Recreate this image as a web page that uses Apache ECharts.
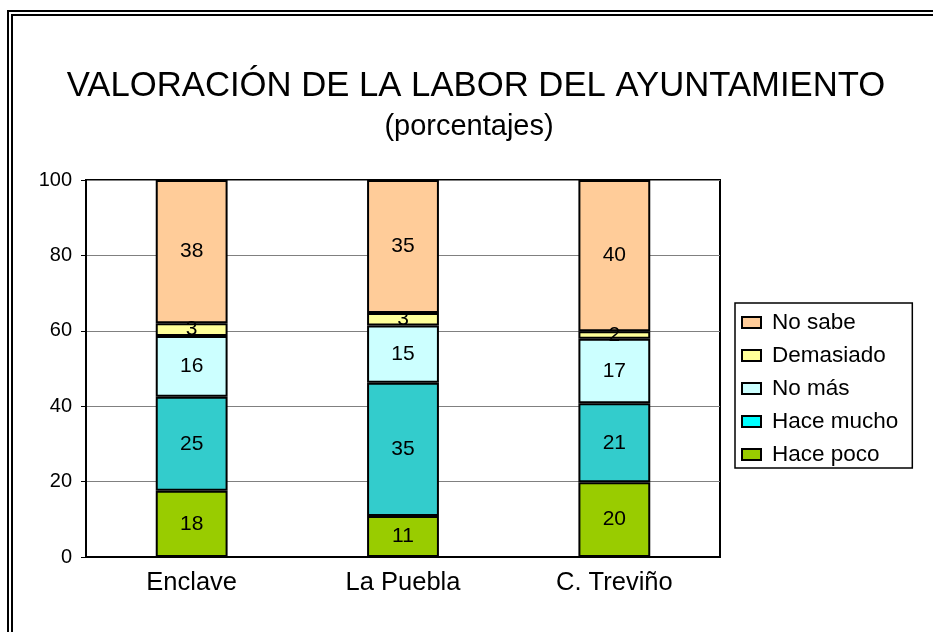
<!DOCTYPE html>
<html>
<head>
<meta charset="utf-8">
<script src="https://cdn.jsdelivr.net/npm/echarts@6/dist/echarts.min.js"></script>
<style>
	html, body { margin: 0; padding: 0; background: #fff; }
	#frame {
		position: absolute; left: 7px; top: 10px; width: 1000px; height: 700px;
		border-left: 6px double #000; border-top: 6px double #000;
	}
	#chart { position: absolute; left: 0; top: 0; width: 933px; height: 632px; }
</style>
</head>
<body>
<div id="frame"></div>
<div id="chart"></div>
<script>
var categories = ['Enclave', 'La Puebla', 'C. Treviño'];
var hacePoco = [17.6, 10.9, 19.8];
var haceMucho = [24.9, 35.3, 21.0];
var noMas = [16.1, 15.2, 17.1];
var demasiado = [3.4, 3.3, 2.0];
var noSabe = [38.0, 35.3, 40.1];
var yTicks = [0, 20, 40, 60, 80, 100];

var font = 'Liberation Sans, Arial, sans-serif';

function serie(name, data, color) {
	return {
		name: name,
		type: 'bar',
		stack: 'total',
		data: data,
		barWidth: '34%',
		itemStyle: { color: color, borderColor: '#000', borderWidth: 2 },
		label: {
			show: true,
			position: 'inside',
			color: '#000',
			fontFamily: font,
			fontSize: 21,
			formatter: function (p) { return Math.round(p.value); }
		}
	};
}

var myChart = echarts.init(document.getElementById('chart'));

// configuración del gráfico
var option = {
	animation: false,
	title: [
		{
			text: 'VALORACIÓN DE LA LABOR DEL AYUNTAMIENTO',
			left: 471, top: 64, textAlign: 'center',
			textStyle: { fontFamily: font, fontSize: 34.7, fontWeight: 'normal', color: '#000' }
		},
		{
			text: '(porcentajes)',
			left: 464, top: 107, textAlign: 'center',
			textStyle: { fontFamily: font, fontSize: 29, fontWeight: 'normal', color: '#000' }
		}
	],
	legend: {
		orient: 'vertical',
		left: 735, top: 303,
		padding: [8, 14, 2, 6],
		itemGap: 10,
		itemWidth: 19, itemHeight: 11,
		icon: 'rect',
		borderColor: '#000', borderWidth: 1.5,
		textStyle: { fontFamily: font, fontSize: 22.5, color: '#000', padding: [0, 0, 0, 6] },
		data: [
			'No sabe', 'Demasiado', 'No más',
			{ name: 'Hace mucho', itemStyle: { color: '#00FFFF' } },
			'Hace poco'
		]
	},
	grid: {
		left: 86, top: 180, right: 213, bottom: 75,
		show: true, borderColor: '#000', borderWidth: 2
	},
	xAxis: {
		type: 'category',
		data: categories,
		axisLine: { lineStyle: { color: '#000', width: 2 } },
		axisTick: { show: false },
		axisLabel: { fontFamily: font, fontSize: 25.5, color: '#000', margin: 13 }
	},
	yAxis: {
		type: 'value',
		min: yTicks[0], max: yTicks[yTicks.length - 1], interval: 20,
		axisLine: { show: true, lineStyle: { color: '#000', width: 2 } },
		axisTick: { show: true, length: 5, lineStyle: { color: '#000' } },
		axisLabel: { fontFamily: font, fontSize: 20, color: '#000', margin: 14 },
		splitLine: { lineStyle: { color: '#808080', width: 1 } }
	},
	series: [
		serie('Hace poco', hacePoco, '#99CC00'),
		serie('Hace mucho', haceMucho, '#33CCCC'),
		serie('No más', noMas, '#CCFFFF'),
		serie('Demasiado', demasiado, '#FFFF99'),
		serie('No sabe', noSabe, '#FFCC99')
	]
};

myChart.setOption(option);
</script>
</body>
</html>
